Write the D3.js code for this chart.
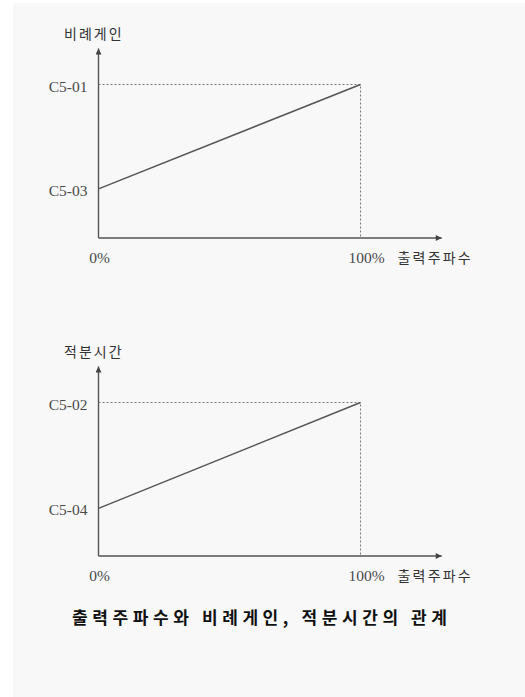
<!DOCTYPE html>
<html>
<head>
    <meta charset="utf-8">
    <title>출력주파수와 비례게인, 적분시간의 관계</title>
    <style>
        body {
            margin: 0;
            background: #ffffff;
        }

        .tick-label {
            font-family: "Liberation Serif", "DejaVu Serif", serif;
            font-size: 15.5px;
            fill: #4a4a4a;
        }

        .kor {
            font-family: "Noto Sans CJK KR", sans-serif;
            font-size: 14px;
            fill: #333333;
        }
    </style>
    <script src="https://d3js.org/d3.v7.min.js"></script>
</head>
<body>
<script type="application/javascript">
  // values (y is relative, axis = 0, upper setting = 1)
  var xTickValues = [0, 100];
  var xTickLabels = ["0%", "100%"];
  var xAxisLabel = "출력주파수";

  var panelTitles = ["비례게인", "적분시간"];

  var gainLabels = ["C5-03", "C5-01"];
  var gainValues = [0.32, 1.0];

  var timeLabels = ["C5-04", "C5-02"];
  var timeValues = [0.31, 1.0];

  var caption = "출력주파수와 비례게인, 적분시간의 관계";

  var w = 525;
  var h = 697;

  var svg = d3.select("body")
              .append("svg")
              .attr("width", w)
              .attr("height", h);

  // scanned paper
  svg.append("rect")
     .attr("x", 13)
     .attr("y", 3)
     .attr("width", w - 13)
     .attr("height", h - 3)
     .attr("fill", "#f8f8f8");

  var x = d3.scaleLinear()
            .domain([0, 100])
            .range([98.5, 360.5]);

  var defs = svg.append("defs");
  defs.append("marker")
      .attr("id", "arrow")
      .attr("viewBox", "0 0 10 10")
      .attr("refX", 10)
      .attr("refY", 5)
      .attr("markerUnits", "userSpaceOnUse")
      .attr("markerWidth", 10)
      .attr("markerHeight", 6)
      .attr("orient", "auto")
      .append("path")
      .attr("d", "M0,0 L10,5 L0,10 Z")
      .attr("fill", "#444");

  function drawPanel(originY, title, labels, values) {
    var y = d3.scaleLinear()
              .domain([0, 1])
              .range([originY, originY - 153.5]);

    var g = svg.append("g");

    // axes with arrows
    g.append("line")
     .attr("x1", x(0)).attr("y1", y(0))
     .attr("x2", x(0)).attr("y2", y(1.235))
     .attr("stroke", "#555")
     .attr("stroke-width", 1.4)
     .attr("marker-end", "url(#arrow)");

    g.append("line")
     .attr("x1", x(0)).attr("y1", y(0))
     .attr("x2", x(131)).attr("y2", y(0))
     .attr("stroke", "#555")
     .attr("stroke-width", 1.4)
     .attr("marker-end", "url(#arrow)");

    // dotted guides to the 100% point
    var top = values[values.length - 1];
    g.append("path")
     .attr("d", "M" + x(0) + "," + y(top) + " H" + x(100) + " V" + y(0))
     .attr("fill", "none")
     .attr("stroke", "#777")
     .attr("stroke-width", 1)
     .attr("stroke-dasharray", "2,2");

    // the line itself
    var line = d3.line()
                 .x(function (d, i) { return x(xTickValues[i]); })
                 .y(function (d) { return y(d); });
    g.append("path")
     .datum(values)
     .attr("d", line)
     .attr("fill", "none")
     .attr("stroke", "#555")
     .attr("stroke-width", 1.5);

    // y labels
    g.selectAll(".ylab")
     .data(values)
     .enter()
     .append("text")
     .attr("class", "tick-label")
     .attr("x", x(0) - 11)
     .attr("y", function (d) { return y(d) + 7; })
     .attr("text-anchor", "end")
     .text(function (d, i) { return labels[i]; });

    // x labels
    g.selectAll(".xlab")
     .data(xTickValues)
     .enter()
     .append("text")
     .attr("class", "tick-label")
     .attr("x", function (d) { return x(d) + (d === 0 ? 1 : 6); })
     .attr("y", y(0) + 25)
     .attr("text-anchor", "middle")
     .text(function (d, i) { return xTickLabels[i]; });

    g.append("text")
     .attr("class", "kor")
     .attr("x", x(100) + 37)
     .attr("y", y(0) + 25)
     .attr("letter-spacing", 2.2)
     .text(xAxisLabel);

    g.append("text")
     .attr("class", "kor")
     .attr("x", 64)
     .attr("y", y(1.295))
     .attr("letter-spacing", 2)
     .text(title);
  }

  drawPanel(238, panelTitles[0], gainLabels, gainValues);
  drawPanel(556, panelTitles[1], timeLabels, timeValues);

  svg.append("text")
     .attr("x", 72)
     .attr("y", 624)
     .attr("font-family", "Noto Sans CJK KR, sans-serif")
     .attr("font-size", 17)
     .attr("font-weight", "bold")
     .attr("letter-spacing", 4.6)
     .attr("fill", "#111")
     .text(caption);
</script>
</body>
</html>
